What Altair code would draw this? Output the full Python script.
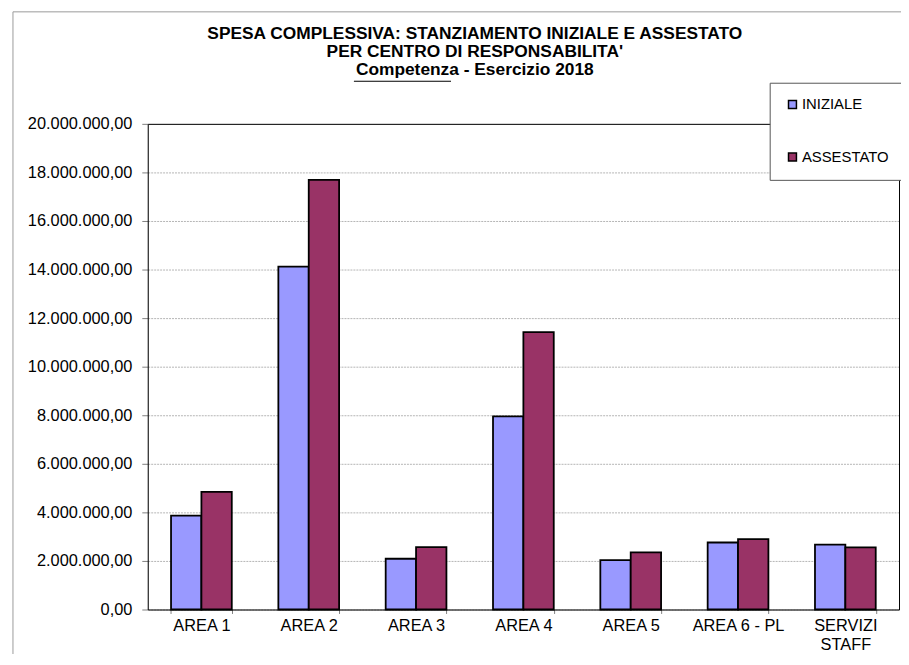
import altair as alt
import pandas as pd

categories = ["AREA 1", "AREA 2", "AREA 3", "AREA 4", "AREA 5", "AREA 6 - PL", "SERVIZI STAFF"]
series = ["INIZIALE", "ASSESTATO"]
iniziale = [3870000, 14120000, 2090000, 7950000, 2030000, 2760000, 2670000]
assestato = [4840000, 17690000, 2570000, 11420000, 2350000, 2900000, 2560000]
y_ticks = [0, 2000000, 4000000, 6000000, 8000000, 10000000, 12000000, 14000000, 16000000, 18000000, 20000000]
title_lines = ["SPESA COMPLESSIVA: STANZIAMENTO INIZIALE E ASSESTATO",
               "PER CENTRO DI RESPONSABILITA'",
               "Competenza - Esercizio 2018"]
colors = ["#9999FF", "#993366"]

rows = []
for c, a, b in zip(categories, iniziale, assestato):
    rows.append({"area": c, "serie": series[0], "valore": a})
    rows.append({"area": c, "serie": series[1], "valore": b})
df = pd.DataFrame(rows)

FONT = "Liberation Sans"
one = alt.Data(values=[{}])

outer = alt.Chart(one).mark_rect(fillOpacity=0, stroke="#9a9a9a", strokeWidth=1, clip=False).encode(
    x=alt.value(-136), x2=alt.value(1500), y=alt.value(-113), y2=alt.value(1200)
)

top_test = "datum.value == 20000000"

bars = alt.Chart(df).mark_bar(stroke="black", strokeWidth=1.8).encode(
    x=alt.X("area:N", sort=categories,
            scale=alt.Scale(paddingInner=0.434, paddingOuter=0.217),
            axis=alt.Axis(title=None, labelAngle=0, tickBand="extent", grid=False,
                          tickSize=4, tickColor="#808080", domainColor="black",
                          labelFont=FONT, labelFontSize=16.5, labelColor="black",
                          labelPadding=4, labelLineHeight=19,
                          labelExpr="datum.value == 'SERVIZI STAFF' ? ['SERVIZI', 'STAFF'] : datum.label")),
    xOffset=alt.XOffset("serie:N", sort=series, scale=alt.Scale(paddingInner=0, paddingOuter=0)),
    y=alt.Y("valore:Q", scale=alt.Scale(domain=[0, 20000000], nice=False),
            axis=alt.Axis(title=None, values=y_ticks, tickSize=6, tickColor="#808080",
                          domainColor="black",
                          gridColor=alt.condition(top_test, alt.value("black"), alt.value("#b4b4b4")),
                          gridDash=alt.condition(top_test, alt.value([]), alt.value([2, 1])),
                          labelFont=FONT, labelFontSize=16.5, labelColor="black", labelPadding=10,
                          labelExpr="replace(format(datum.value, ','), regexp(',', 'g'), '.') + ',00'")),
    color=alt.Color("serie:N", sort=series, scale=alt.Scale(domain=series, range=colors),
                    legend=alt.Legend(title=None, orient="none", legendX=643, legendY=-27,
                                      symbolType="square", symbolSize=64, symbolStrokeColor="black",
                                      symbolStrokeWidth=1.5, labelFont=FONT, labelFontSize=15,
                                      labelColor="black", labelOffset=2, rowPadding=37, padding=0)),
)

right_edge = alt.Chart(df).mark_point(opacity=0).encode(
    y=alt.Y("valore:Q", axis=alt.Axis(orient="right", title=None, labels=False, ticks=False,
                                      grid=False, domainColor="black"))
)

legend_box = alt.Chart(one).mark_rect(fill="white", stroke="#555555", strokeWidth=1, clip=False).encode(
    x=alt.value(628), x2=alt.value(1500), y=alt.value(-41), y2=alt.value(57)
)

underline = alt.Chart(one).mark_rule(color="black", strokeWidth=1.2, clip=False).encode(
    x=alt.value(208), x2=alt.value(306), y=alt.value(-43)
)

chart = alt.layer(outer, bars, right_edge, legend_box, underline).resolve_axis(y="independent").properties(
    width=758, height=490,
    padding={"left": 141, "top": 114, "right": 2, "bottom": 42},
    autosize=alt.AutoSizeParams(type="none"),
    title=alt.Title(text=title_lines, font=FONT, fontSize=17.5, fontWeight="bold", color="black",
                    anchor="middle", frame="group", dx=-49, lineHeight=18.5, offset=-68),
).configure_view(stroke=None).configure(background="white")

chart.save("out.html", embed_options={"renderer": "svg", "actions": False})
